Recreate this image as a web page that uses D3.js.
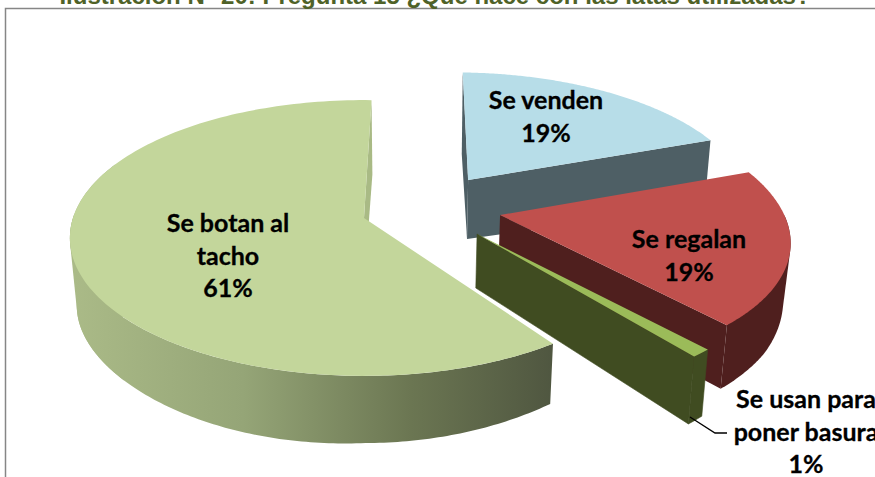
<!DOCTYPE html>
<html><head><meta charset="utf-8">
<script src="https://cdnjs.cloudflare.com/ajax/libs/d3/7.8.5/d3.min.js"></script>
<style>html,body{margin:0;padding:0;background:#fff;overflow:hidden}svg{display:block}</style>
</head><body><svg id="c" width="875" height="477"></svg>
<script>
const categories = ["Se venden", "Se regalan", "Se usan para poner basura", "Se botan al tacho"];
const values = [19, 19, 1, 61];
const percentLabels = ["19%", "19%", "1%", "61%"];
const labelLines = [["Se venden"], ["Se regalan"], ["Se usan para", "poner basura"], ["Se botan al", "tacho"]];
const labelAnchor = [[546, 101], [689, 240], [806, 400], [228, 224]];
const explode = [[0.373, -0.293], [0.469, -0.022], [0.382, 0.1165], [0, 0]];
const radii = [0.985, 0.98, 0.985, 1];
const startNudge = [0, 0, 0, 3];
const topColors = ["#B7DDE8", "#C0504D", "#9BBB59", "#C3D69B"];
const wallColors = ["#4E5F65", "#4F1F1E", "#404C21", "#A9BA85"];
const titleText = "Ilustración N° 20: Pregunta 15 ¿Qué hace con las latas utilizadas?";

const svg = d3.select("#c");
const deg = Math.PI / 180;
const cx = 364, cy = 218, rx = 291, ry = 135, p = 0.145;
const cyB = 273, ryB = 124.8, pB = 0.266, kB = 0.98;

const pie = d3.pie().sort(null).value(d => d).startAngle(1.7 * deg).endAngle(361.7 * deg);
const arcs = pie(values);

function topPt(q) {
  const s = 1 / (1 - p * q[1]);
  return [cx + rx * q[0] * s, cy + ry * q[1] * s];
}
function botPt(q) {
  const t = topPt(q);
  const lift = 12 * Math.max(0, q[0] - 0.6) * Math.min(1, Math.max(0, q[1]) / 0.5);
  return [cx + 1 + kB * (t[0] - cx), cyB + ryB * q[1] / (1 - pB * q[1]) + 14 * Math.max(0, -q[0]) + lift];
}
function rim(i, a) {
  return [explode[i][0] + radii[i] * Math.sin(a), explode[i][1] - radii[i] * Math.cos(a)];
}
const line = d3.line();
const angles = (a0, a1, n = 80) => d3.range(n + 1).map(k => a0 + (a1 - a0) * k / n);

function wallPath(pts) {
  return line(pts.map(topPt).concat(pts.map(botPt).reverse())) + "Z";
}
function hullPath(pts) {
  return line(d3.polygonHull(pts.map(topPt).concat(pts.map(botPt)))) + "Z";
}
const defs = svg.append("defs");
const grad = defs.append("linearGradient").attr("id", "wall").attr("gradientUnits", "userSpaceOnUse")
  .attr("x1", 75).attr("x2", 555).attr("y1", 0).attr("y2", 0);
[[0, "#AABA87"], [0.35, "#95A577"], [0.7, "#6B7652"], [1, "#4F5640"]].forEach(s =>
  grad.append("stop").attr("offset", s[0]).attr("stop-color", s[1]));

// frame
svg.append("path").attr("d", "M5.5 477V8.5H875").attr("fill", "none").attr("stroke", "#868686").attr("stroke-width", 1.5);
// title, cropped by the top of the page
svg.append("text").attr("x", 435).attr("y", 4).attr("text-anchor", "middle")
  .attr("font-family", "Liberation Sans").attr("font-weight", "bold").attr("font-size", 24)
  .attr("fill", "#4F6228").text(titleText);

const layer = svg.append("g");
arcs.forEach((d, i) => {
  const g = layer.append("g").attr("class", "slice");
  const a0 = d.startAngle + startNudge[i] * deg, a1 = d.endAngle;
  const A = explode[i];
  if (i === 0) {
    g.append("path").attr("d", wallPath([rim(i, a0), A])).attr("fill", wallColors[i]);
    g.append("path").attr("d", wallPath([A, rim(i, a1)])).attr("fill", wallColors[i]);
  } else if (i === 1) {
    g.append("path").attr("d", hullPath(angles(a0 + 20 * deg, a1).map(a => rim(i, a)))).attr("fill", wallColors[i]);
    g.append("path").attr("d", wallPath([A, rim(i, a1)])).attr("fill", wallColors[i]);
  } else if (i === 2) {
    g.append("path").attr("d", wallPath(angles(a0, a1, 6).map(a => rim(i, a)))).attr("fill", wallColors[i]).attr("stroke", wallColors[i]).attr("stroke-width", 0.6);
    g.append("path").attr("d", wallPath([A, rim(i, a1)])).attr("fill", wallColors[i]).attr("stroke", wallColors[i]).attr("stroke-width", 0.6);
  } else {
    g.append("path").attr("d", wallPath(angles(a0, a1 - 90 * deg, 160).map(a => rim(i, a)))).attr("fill", "url(#wall)");
    g.append("path").attr("d", hullPath(angles(230 * deg, 295 * deg, 60).map(a => rim(i, a)))).attr("fill", "url(#wall)");
    g.append("path").attr("d", wallPath([A, rim(i, a1)])).attr("fill", wallColors[i]);
  }
  const top = [A].concat(angles(a0, a1, 160).map(a => rim(i, a))).map(topPt);
  g.append("path").attr("d", line(top) + "Z").attr("fill", topColors[i]);
});

// leader line for the small slice
svg.append("path").attr("d", "M690 417L715 433H727").attr("fill", "none").attr("stroke", "#000").attr("stroke-width", 1.3);

// labels
const lh = 32.5;
arcs.forEach((d, i) => {
  const t = svg.append("text").attr("text-anchor", "middle")
    .attr("font-family", "Lato").attr("font-weight", "bold").attr("font-size", 25)
    .attr("fill", "#000").attr("stroke", "#000").attr("stroke-width", 0.3);
  const lines = labelLines[i].concat([percentLabels[i]]);
  lines.forEach((s, k) => t.append("tspan").attr("x", labelAnchor[i][0]).attr("y", labelAnchor[i][1] + 8 + k * lh).text(s));
});
</script></body></html>
